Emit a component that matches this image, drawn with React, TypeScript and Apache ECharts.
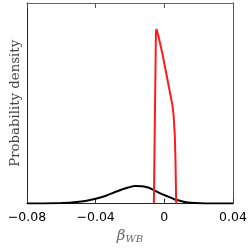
import React, { useEffect, useRef } from "react";
import * as echarts from "echarts";

const xTicks = [-0.08, -0.04, 0, 0.04];
const blackX = [-0.08, -0.07, -0.06, -0.054, -0.046, -0.04, -0.034, -0.027, -0.021, -0.017, -0.013, -0.009, -0.0058, -0.002, 0.002, 0.0057, 0.01, 0.0134, 0.018, 0.024, 0.03, 0.04];
const blackY = [0, 0.05, 0.25, 0.5, 1.3, 2.4, 3.9, 6.3, 8.0, 8.8, 8.7, 7.9, 6.6, 5.0, 3.6, 2.2, 1.2, 0.6, 0.25, 0.05, 0, 0];
const redX = [-0.0061, -0.0049, -0.0046, -0.0035, -0.001, 0.0019, 0.0048, 0.0054, 0.0061, 0.0065, 0.0069];
const redY = [0, 85, 87, 83.8, 74.2, 61.5, 48.6, 43.8, 34.1, 21.2, 0];

export default function App() {
  const ref = useRef<HTMLDivElement>(null);
  useEffect(() => {
    const chart = echarts.init(ref.current!, null, { renderer: "svg" });
    const frame = { show: true, lineStyle: { color: "#222", width: 1 } };
    chart.setOption({
      animation: false,
      grid: { left: 24, right: 18, top: 3, bottom: 37 },
      xAxis: [
        {
          type: "value", min: -0.08, max: 0.04, interval: 0.04,
          axisLine: { ...frame, onZero: false },
          axisTick: { show: true, inside: true, length: 5, lineStyle: { color: "#333" } },
          splitLine: { show: false },
          axisLabel: {
            fontFamily: "DejaVu Sans", fontSize: 12.5, color: "#000", margin: 6,
            formatter: (v: number) => {
              const t = xTicks.find((x) => Math.abs(x - v) < 1e-9);
              if (t === undefined) return "";
              if (t === 0) return "0";
              return (t < 0 ? "\u2212" : "") + Math.abs(t).toFixed(2);
            },
          },
          name: "{b|\u03b2}{s|WB}",
          nameLocation: "middle",
          nameGap: 22,
          nameTextStyle: {
            rich: {
              b: { fontFamily: "DejaVu Serif", fontStyle: "italic", fontSize: 15, color: "#666" },
              s: { fontFamily: "DejaVu Serif", fontStyle: "italic", fontSize: 10, color: "#666", verticalAlign: "bottom", padding: [6, 0, 0, 0] },
            },
          },
        },
        {
          type: "value", min: -0.08, max: 0.04, interval: 0.04, position: "top",
          axisLine: { show: true, onZero: false, lineStyle: { color: "#666", width: 1 } },
          axisTick: { show: true, inside: true, length: 5, lineStyle: { color: "#555" } },
          splitLine: { show: false },
          axisLabel: { show: false },
        },
      ],
      yAxis: [
        {
          type: "value", min: 0, max: 100,
          axisLine: { ...frame, onZero: false }, axisTick: { show: false }, axisLabel: { show: false }, splitLine: { show: false },
          name: "Probability density", nameLocation: "middle", nameGap: 6,
          nameTextStyle: { fontFamily: "DejaVu Serif", fontSize: 13.3, color: "#444" },
        },
        {
          type: "value", min: 0, max: 100, position: "right",
          axisLine: { show: true, onZero: false, lineStyle: { color: "#555", width: 1 } }, axisTick: { show: false }, axisLabel: { show: false }, splitLine: { show: false },
        },
      ],
      series: [
        {
          type: "line", showSymbol: false, data: blackX.map((x, i) => [x, blackY[i]]),
          lineStyle: { color: "#000", width: 2 }, smooth: 0.3, z: 2,
        },
        {
          type: "line", showSymbol: false, data: redX.map((x, i) => [x, redY[i]]),
          lineStyle: { color: "#ff1a1a", width: 2 }, z: 3,
        },
      ],
    });
    return () => chart.dispose();
  }, []);
  return <div ref={ref} style={{ width: 251, height: 248, position: "fixed", left: 0, top: 0 }} />;
}
